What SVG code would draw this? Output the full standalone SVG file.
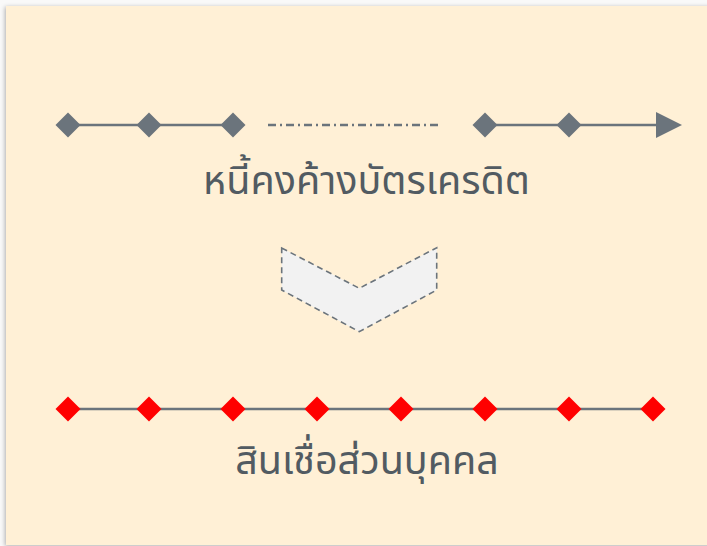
<svg xmlns="http://www.w3.org/2000/svg" width="707" height="546" viewBox="0 0 707 546">
<style>
.ln{stroke:#6B747C;stroke-width:2.5;fill:none}
.dg{fill:#6B747C}
.dr{fill:#FF0000}
.lbl{font-family:"Noto Sans Thai","Noto Sans","Liberation Sans",sans-serif;font-size:39.5px;fill:#525B62;text-anchor:middle}
</style>
<defs>
<filter id="sh" x="-5%" y="-5%" width="110%" height="110%">
<feDropShadow dx="-1" dy="1" stdDeviation="2" flood-color="#000" flood-opacity="0.3"/>
</filter>
<polygon id="dia" points="0,-12.5 12.5,0 0,12.5 -12.5,0"/>
</defs>
<rect width="707" height="546" fill="#F9F9F9"/>
<rect x="6" y="6" width="710" height="539" fill="#FFF0D6" filter="url(#sh)"/>
<g id="connectors">
<line class="ln" x1="68" y1="125" x2="233" y2="125"/>
<line class="ln" x1="268" y1="125" x2="438" y2="125" stroke-dasharray="8,4,2,4" stroke-width="2"/>
<line class="ln" x1="485" y1="125" x2="660" y2="125"/>
<polygon class="dg" points="656,112 682,125 656,138"/>
<line class="ln" x1="68" y1="409" x2="653" y2="409"/>
</g>
<g id="top-markers">
<use href="#dia" class="dg" x="68" y="125"/>
<use href="#dia" class="dg" x="149" y="125"/>
<use href="#dia" class="dg" x="233" y="125"/>
<use href="#dia" class="dg" x="485" y="125"/>
<use href="#dia" class="dg" x="569" y="125"/>
</g>
<g id="label-top"><text class="lbl" x="366.5" y="194">หนี้คงค้างบัตรเครดิต</text></g>
<g id="chevron">
<polygon points="281.7,248 359.3,288.3 436.7,247.7 436.7,290 359.3,331.7 281.7,290" fill="#F2F2F2" stroke="#6B747C" stroke-width="1.6" stroke-dasharray="6,4"/>
</g>
<g id="bottom-markers">
<use href="#dia" class="dr" x="68" y="409"/>
<use href="#dia" class="dr" x="149" y="409"/>
<use href="#dia" class="dr" x="233" y="409"/>
<use href="#dia" class="dr" x="317" y="409"/>
<use href="#dia" class="dr" x="401" y="409"/>
<use href="#dia" class="dr" x="485" y="409"/>
<use href="#dia" class="dr" x="569" y="409"/>
<use href="#dia" class="dr" x="653" y="409"/>
</g>
<g id="label-bottom"><text class="lbl" x="367" y="474">สินเชื่อส่วนบุคคล</text></g>
</svg>
